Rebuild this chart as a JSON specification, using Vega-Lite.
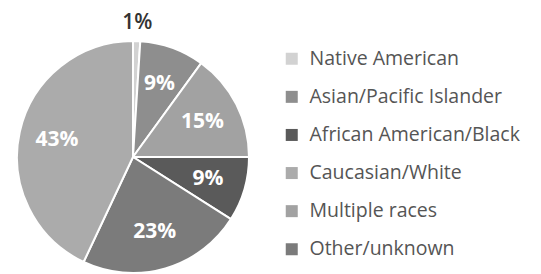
{
  "$schema": "https://vega.github.io/schema/vega-lite/v6.json",
  "width": 266,
  "height": 240,
  "autosize": {"type": "none"},
  "padding": {"top": 37, "left": 0, "right": 275, "bottom": 0},
  "background": "white",
  "config": {"view": {"stroke": null}},
  "data": {
    "values": [
      {"group": "Native American", "pct": 1, "label": "1%", "order": 1},
      {"group": "Asian/Pacific Islander", "pct": 9, "label": "9%", "order": 2},
      {"group": "Multiple races", "pct": 15, "label": "15%", "order": 3},
      {"group": "African American/Black", "pct": 9, "label": "9%", "order": 4},
      {"group": "Other/unknown", "pct": 23, "label": "23%", "order": 5},
      {"group": "Caucasian/White", "pct": 43, "label": "43%", "order": 6}
    ]
  },
  "encoding": {
    "theta": {"field": "pct", "type": "quantitative", "stack": true},
    "order": {"field": "order", "type": "quantitative"}
  },
  "layer": [
    {
      "mark": {"type": "arc", "radius": 116, "stroke": "white", "strokeWidth": 2},
      "encoding": {
        "color": {
          "field": "group",
          "type": "nominal",
          "scale": {
            "domain": ["Native American", "Asian/Pacific Islander", "African American/Black", "Caucasian/White", "Multiple races", "Other/unknown"],
            "range": ["#d2d2d2", "#8e8e8e", "#5a5a5a", "#ababab", "#a2a2a2", "#7b7b7b"]
          },
          "legend": {
            "orient": "none",
            "legendX": 282,
            "legendY": 12,
            "title": null,
            "symbolType": "square",
            "symbolSize": 144,
            "symbolStrokeWidth": 0,
            "labelFontSize": 19.5,
            "labelFont": "Open Sans",
            "labelColor": "#555555",
            "labelOffset": 8,
            "labelLimit": 300,
            "rowPadding": 17.1,
            "padding": 0
          }
        }
      }
    },
    {
      "mark": {"type": "text", "radius": 78, "font": "Open Sans", "fontWeight": "bold", "fontSize": 21, "fill": "white"},
      "encoding": {
        "text": {"condition": {"test": "datum.pct >= 5", "field": "label"}, "value": ""}
      }
    },
    {
      "mark": {"type": "text", "radius": 134, "font": "Open Sans", "fontWeight": 600, "fontSize": 21, "fill": "#333333"},
      "encoding": {
        "text": {"condition": {"test": "datum.pct < 5", "field": "label"}, "value": ""}
      }
    }
  ]
}
